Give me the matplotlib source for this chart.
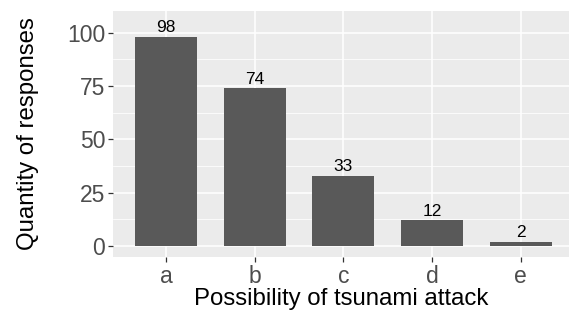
import matplotlib
matplotlib.use("Agg")
import matplotlib.pyplot as plt
from matplotlib.ticker import MultipleLocator

categories = ["a", "b", "c", "d", "e"]
responses = [98, 74, 33, 12, 2]
yticks = [0, 25, 50, 75, 100]

plt.rcParams["font.family"] = ["Liberation Sans", "DejaVu Sans"]

fig = plt.figure(figsize=(5.69, 3.11), dpi=100)
ax = fig.add_axes([113 / 569, 1 - 257 / 311, 1 - 113 / 569, 246 / 311])

ax.set_facecolor("#EBEBEB")
x = list(range(1, len(categories) + 1))
ax.bar(x, responses, width=0.7, color="#595959", zorder=3)
for xi, v in zip(x, responses):
    ax.text(xi, v + 0.8, str(v), ha="center", va="bottom", fontsize=12.5, color="black", zorder=4)

ax.set_xlim(0.4, 5.545)
ax.set_ylim(-5.25, 110.25)
ax.set_xticks(x)
ax.set_xticklabels(categories)
ax.set_yticks(yticks)
ax.yaxis.set_minor_locator(MultipleLocator(12.5))

ax.grid(which="major", color="white", linewidth=1.1, zorder=0)
ax.grid(which="minor", axis="y", color="white", linewidth=0.55, zorder=0)
ax.set_axisbelow(True)
for s in ax.spines.values():
    s.set_visible(False)

ax.tick_params(which="major", length=3.5, width=0.9, color="#333333", labelcolor="#4D4D4D",
               labelsize=16.5, pad=2)
ax.tick_params(which="minor", length=0)

ax.set_xlabel("Possibility of tsunami attack", fontsize=17.3, color="black", labelpad=0)
ax.set_ylabel("Quantity of responses", fontsize=17.3, color="black", labelpad=20)

fig.savefig("out.png", dpi=100)
